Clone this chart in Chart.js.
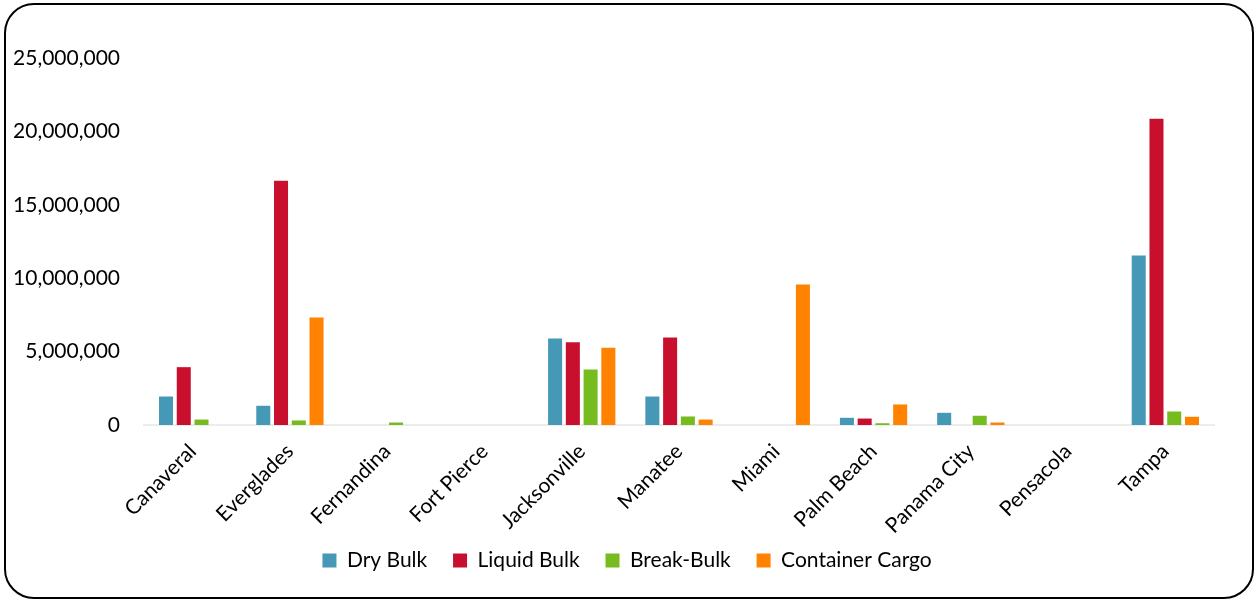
<!DOCTYPE html>
<html>
<head>
<meta charset="utf-8">
<title>Florida Seaport Cargo Tonnage</title>
<script src="https://cdn.jsdelivr.net/npm/chart.js@4.4.1/dist/chart.umd.min.js"></script>
<style>
  html, body { margin: 0; padding: 0; background: #ffffff; }
  #wrap { position: relative; width: 1254px; height: 602px; overflow: hidden; }
  #frame {
    position: absolute; left: 4px; top: 3px; width: 1246px; height: 592px;
    border: 2px solid #000; border-radius: 30px; pointer-events: none;
  }
  canvas { position: absolute; left: 0; top: 0; }
</style>
</head>
<body>
<div id="wrap">
  <canvas id="chart" width="1254" height="602"></canvas>
  <div id="frame"></div>
</div>
<script>
// Ports along the x axis
const ports = ["Canaveral", "Everglades", "Fernandina", "Fort Pierce", "Jacksonville",
               "Manatee", "Miami", "Palm Beach", "Panama City", "Pensacola", "Tampa"];

// Tonnage by cargo type, one value per port
const dryBulk       = [1940000, 1310000, 0, 0, 5890000, 1940000, 0, 490000, 830000, 0, 11550000];
const liquidBulk    = [3940000, 16630000, 0, 0, 5640000, 5960000, 0, 440000, 0, 0, 20860000];
const breakBulk     = [370000, 310000, 170000, 0, 3780000, 580000, 0, 120000, 630000, 0, 920000];
const containerCargo = [0, 7320000, 0, 0, 5260000, 370000, 9570000, 1400000, 170000, 0, 560000];

// Value axis ticks
const yTicks = [0, 5000000, 10000000, 15000000, 20000000, 25000000];

const FONT = "Lato, 'Open Sans', sans-serif";

const series = [
  { label: "Dry Bulk",        data: dryBulk,        color: "#4599B6" },
  { label: "Liquid Bulk",     data: liquidBulk,     color: "#C8102E" },
  { label: "Break-Bulk",      data: breakBulk,      color: "#77BC1F" },
  { label: "Container Cargo", data: containerCargo, color: "#FF8200" }
];

// Legend entries get a little trailing room so the items sit further apart
// while the legend itself stays compact vertically.
const ITEM_GAP = "\u2002\u200A";

const PAD_LEFT = 12;

new Chart(document.getElementById("chart"), {
  type: "bar",
  data: {
    labels: ports,
    datasets: series.map(s => ({
      label: s.label,
      data: s.data,
      backgroundColor: s.color,
      borderWidth: 0,
      categoryPercentage: 0.73,
      barPercentage: 0.79
    }))
  },
  options: {
    responsive: false,
    animation: false,
    devicePixelRatio: 1,
    layout: { padding: { left: PAD_LEFT, right: 0, top: 58, bottom: 21 } },
    plugins: {
      tooltip: { enabled: false },
      legend: {
        position: "bottom",
        labels: {
          color: "#000",
          font: { family: FONT, size: 21 },
          boxWidth: 14,
          boxHeight: 14,
          padding: 14,
          generateLabels: (chart) =>
            Chart.defaults.plugins.legend.labels.generateLabels(chart).map(item => {
              item.text = item.text + ITEM_GAP;
              return item;
            })
        }
      }
    },
    scales: {
      x: {
        afterFit: (scale) => { scale.height = 111; },
        grid: { display: false, drawTicks: false },
        border: { display: true, color: "#ececec", width: 2 },
        ticks: {
          color: "#000",
          font: { family: FONT, size: 21 },
          maxRotation: 45,
          minRotation: 45,
          padding: 14,
          autoSkip: false
        }
      },
      y: {
        min: 0,
        max: 25000000,
        afterFit: (scale) => { scale.width = 144 - PAD_LEFT; },
        afterBuildTicks: (scale) => { scale.ticks = yTicks.map(v => ({ value: v })); },
        grid: { display: false, drawTicks: false },
        border: { display: false },
        ticks: {
          color: "#000",
          font: { family: FONT, size: 21 },
          padding: 24,
          callback: (v) => Number(v).toLocaleString("en-US")
        }
      },
      // empty right-hand margin beside the plot
      yRight: {
        position: "right",
        afterFit: (scale) => { scale.width = 40; },
        grid: { display: false, drawTicks: false },
        border: { display: false },
        ticks: { display: false }
      }
    }
  }
});
</script>
</body>
</html>
